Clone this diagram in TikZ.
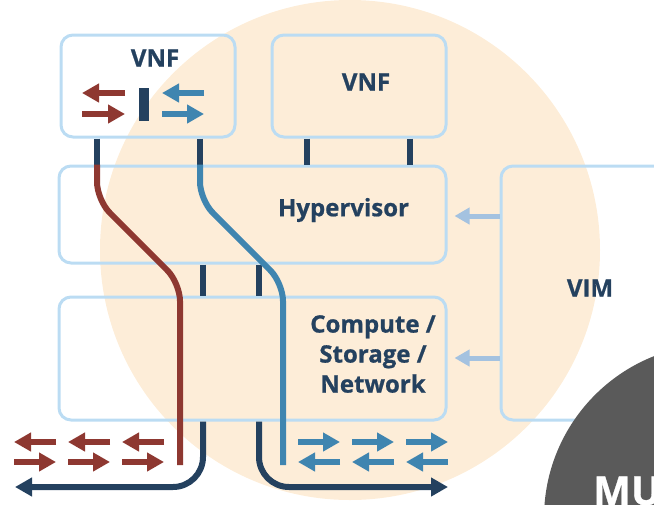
\documentclass[tikz,border=0pt]{standalone}
\usepackage{fontspec}
\setmainfont{Open Sans}[BoldFeatures={FakeBold=0.8}]
\usetikzlibrary{arrows.meta}

\definecolor{peach}{HTML}{FDEDD8}
\definecolor{boxblue}{HTML}{BBDCF3}
\definecolor{navy}{HTML}{24415F}
\definecolor{flowred}{HTML}{8E3831}
\definecolor{flowblue}{HTML}{3F85B0}
\definecolor{ctrlblue}{HTML}{A4C2E0}
\definecolor{disc}{HTML}{5A5A5A}

\tikzset{
  frame/.style={draw=boxblue, line width=3pt, rounded corners=12pt, inner sep=0pt},
  lbl/.style={text=navy, font=\bfseries\fontsize{24}{30}\selectfont, align=center, inner sep=0pt},
  link/.style={draw=navy, line width=6pt},
  redpath/.style={draw=flowred, line width=6pt, rounded corners=18pt},
  bluepath/.style={draw=flowblue, line width=6pt, rounded corners=18pt},
  trunk/.style={draw=navy, line width=6pt, rounded corners=30pt, -{Triangle[length=17pt,width=18pt]}},
  minired/.style={draw=flowred, line width=5.5pt, -{Triangle[length=17pt,width=18pt]}},
  miniblue/.style={draw=flowblue, line width=5.5pt, -{Triangle[length=17pt,width=18pt]}},
  ctrl/.style={draw=ctrlblue, line width=5pt, -{Triangle[length=15pt,width=16pt]}, shorten >=7pt},
}

\begin{document}
\begin{tikzpicture}[x=1pt, y=-1pt]
  \useasboundingbox (0,0) rectangle (654,504);
  \clip (0,0) rectangle (654,504);

  % background disc
  \fill[peach] (350,250) circle (250pt);

  % boxes
  \node[frame, minimum width=174pt, minimum height=102pt] (vnfa) at (148,86) {};
  \node[frame, minimum width=174pt, minimum height=102pt] (vnfb) at (359,86) {};
  \node[frame, minimum width=387pt, minimum height=97pt] (hyp) at (252.5,214.5) {};
  \node[frame, minimum width=387pt, minimum height=123pt] (comp) at (252.5,358.5) {};
  \node[frame, minimum width=189pt, minimum height=254pt] (vim) at (595.5,293) {};

  % labels
  \node[lbl] (vnfatext) at (155,58) {VNF};
  \node[lbl] (vnfbtext) at (366,82) {VNF};
  \node[lbl] (hyptext) at (343.5,210) {Hypervisor};
  \node[lbl] (comptext) at (373,354) {Compute /\\Storage /\\Network};
  \node[lbl] (vimtext) at (590,288) {VIM};

  % column positions
  \coordinate (xr) at (97,0);
  \coordinate (xb) at (200,0);
  \coordinate (xc) at (307,0);
  \coordinate (xd) at (410,0);
  \coordinate (xl) at (203,0);
  \coordinate (xm) at (259,0);

  % links between layers
  \draw[link] (vnfa.south -| xr) -- (hyp.north -| xr);
  \draw[link] (vnfa.south -| xb) -- (hyp.north -| xb);
  \draw[link] (vnfb.south -| xc) -- (hyp.north -| xc);
  \draw[link] (vnfb.south -| xd) -- (hyp.north -| xd);
  \draw[link] (hyp.south -| xl) -- (comp.north -| xl);
  \draw[link] (hyp.south -| xm) -- (comp.north -| xm);

  % traffic paths through the stack
  \coordinate (redend) at (180,465);
  \coordinate (blueend) at (283,465);
  \draw[redpath] (hyp.north -| xr) -- (97,200) -- (180,283) -- (redend);
  \draw[bluepath] (hyp.north -| xb) -- (200,200) -- (283,283) -- (blueend);

  % outgoing trunks
  \coordinate (westout) at (15,487);
  \coordinate (eastout) at (448,487);
  \draw[trunk] (comp.south -| xl) -- (203,487) -- (westout);
  \draw[trunk] (comp.south -| xm) -- (259,487) -- (eastout);

  % VIM control arrows
  \coordinate (ya) at (0,216);
  \coordinate (yb) at (0,358);
  \draw[ctrl] (vim.west |- ya) -- (hyp.east |- ya);
  \draw[ctrl] (vim.west |- yb) -- (comp.east |- yb);

  % switch inside the first VNF
  \fill[navy] (139,88) rectangle (149,121);
  \draw[minired] (125,93) -- (82,93);
  \draw[minired] (82,114) -- (125,114);
  \draw[miniblue] (204,93) -- (162,93);
  \draw[miniblue] (162,114) -- (204,114);

  % red flow pairs
  \foreach \x in {14,68,122} {
    \draw[minired] (\x+42,442) -- (\x,442);
    \draw[minired] (\x,462) -- (\x+42,462);
  }
  % blue flow pairs
  \foreach \x in {298,352,406} {
    \draw[miniblue] (\x,442) -- (\x+42,442);
    \draw[miniblue] (\x+42,462) -- (\x,462);
  }

  % dark disc in the corner
  \fill[disc] (718,518) circle (174pt);
  \node[anchor=base west, inner sep=0pt, text=white, font=\bfseries\fontsize{40}{40}\selectfont] (mutext) at (593,505) {MU};
\end{tikzpicture}
\end{document}
